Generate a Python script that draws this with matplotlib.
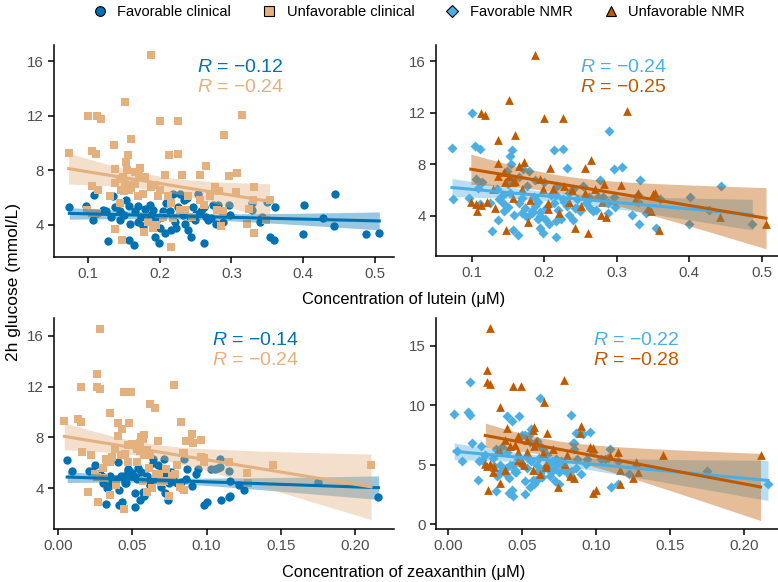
import matplotlib

matplotlib.use("Agg")
import matplotlib.pyplot as plt
import numpy as np
from matplotlib.lines import Line2D

plt.rcParams["font.family"] = ["Liberation Sans", "DejaVu Sans"]
plt.rcParams["mathtext.fontset"] = "custom"
plt.rcParams["mathtext.it"] = "Liberation Sans:italic"
plt.rcParams["mathtext.rm"] = "Liberation Sans"

# subjects with favorable clinical profile: lutein, zeaxanthin (uM), 2h glucose (mmol/L),
# and whether the NMR profile is favorable (1) or not (0)
lut_fc = [0.074, 0.097, 0.107, 0.109, 0.121, 0.128, 0.125, 0.132, 0.135, 0.138,
          0.144, 0.145, 0.153, 0.157, 0.159, 0.157, 0.164, 0.165, 0.170, 0.174,
          0.177, 0.180, 0.184, 0.188, 0.191, 0.194, 0.199, 0.201, 0.205, 0.207,
          0.209, 0.214, 0.218, 0.221, 0.223, 0.228, 0.232, 0.234, 0.235, 0.238,
          0.240, 0.243, 0.246, 0.249, 0.253, 0.258, 0.261, 0.264, 0.267, 0.274,
          0.281, 0.279, 0.288, 0.297, 0.298, 0.329, 0.329, 0.340, 0.343, 0.350,
          0.354, 0.359, 0.360, 0.401, 0.400, 0.427, 0.444, 0.443, 0.487, 0.506,
          0.195, 0.203, 0.216, 0.226, 0.251, 0.262, 0.272, 0.112, 0.150, 0.186,
          0.170, 0.242]
zea_fc = [0.009, 0.023, 0.030, 0.006, 0.028, 0.032, 0.035, 0.038, 0.040, 0.021,
          0.042, 0.045, 0.025, 0.047, 0.033, 0.043, 0.052, 0.044, 0.048, 0.036,
          0.041, 0.050, 0.046, 0.053, 0.049, 0.055, 0.041, 0.057, 0.051, 0.058,
          0.054, 0.060, 0.064, 0.062, 0.059, 0.071, 0.065, 0.067, 0.069, 0.064,
          0.072, 0.074, 0.070, 0.075, 0.085, 0.073, 0.098, 0.078, 0.080, 0.087,
          0.094, 0.082, 0.090, 0.103, 0.086, 0.108, 0.093, 0.122, 0.116, 0.109,
          0.110, 0.100, 0.115, 0.106, 0.115, 0.175, 0.109, 0.125, 0.216, 0.116,
          0.062, 0.045, 0.052, 0.056, 0.066, 0.076, 0.083, 0.031, 0.039, 0.047,
          0.034, 0.061]
glu_fc = [5.35, 5.4, 4.4, 6.2, 5.1, 2.8, 5.0, 4.6, 6.1, 5.35,
          5.0, 4.4, 5.8, 5.4, 4.05, 2.9, 2.55, 5.0, 5.4, 4.6,
          3.9, 5.2, 4.4, 4.75, 5.1, 3.1, 2.65, 3.75, 5.0, 3.4,
          5.6, 5.0, 6.3, 4.25, 3.75, 6.3, 4.75, 5.8, 4.1, 6.0,
          3.65, 3.1, 5.35, 4.4, 6.3, 5.0, 2.65, 4.6, 4.4, 5.5,
          5.5, 4.1, 4.2, 5.5, 4.7, 5.6, 5.1, 4.25, 4.6, 5.7,
          3.1, 2.9, 5.35, 5.5, 3.35, 4.5, 6.3, 3.9, 3.35, 3.4,
          4.3, 4.6, 3.6, 5.3, 4.8, 5.3, 4.5, 4.9, 4.7, 5.5,
          4.2, 4.6]
nmr_fc = [1, 1, 0, 1, 0, 1, 1, 0, 1, 1,
          1, 1, 1, 0, 1, 1, 1, 1, 1, 1,
          1, 0, 1, 1, 1, 1, 1, 1, 0, 1,
          1, 1, 1, 0, 1, 0, 1, 1, 1, 0,
          1, 0, 1, 1, 1, 1, 0, 1, 1, 1,
          1, 0, 1, 1, 1, 1, 1, 1, 0, 0,
          1, 0, 1, 1, 1, 1, 1, 0, 1, 0,
          1, 1, 1, 1, 0, 1, 1, 1, 1, 1,
          1, 1]

# subjects with unfavorable clinical profile
lut_uc = [0.073, 0.100, 0.113, 0.118, 0.105, 0.111, 0.106, 0.114, 0.099, 0.106,
          0.113, 0.136, 0.137, 0.151, 0.160, 0.156, 0.153, 0.154, 0.165, 0.173,
          0.171, 0.179, 0.137, 0.145, 0.149, 0.152, 0.155, 0.160, 0.165, 0.146,
          0.150, 0.157, 0.130, 0.137, 0.147, 0.188, 0.194, 0.200, 0.200, 0.188,
          0.226, 0.213, 0.226, 0.208, 0.198, 0.216, 0.228, 0.212, 0.231, 0.256,
          0.265, 0.290, 0.315, 0.296, 0.308, 0.306, 0.332, 0.321, 0.331, 0.277,
          0.283, 0.280, 0.288, 0.286, 0.256, 0.262, 0.245, 0.235, 0.183, 0.178,
          0.191, 0.195, 0.216, 0.205, 0.219, 0.348, 0.170, 0.177, 0.144, 0.330,
          0.353, 0.325, 0.240, 0.270]
zea_uc = [0.004, 0.015, 0.026, 0.028, 0.013, 0.015, 0.016, 0.022, 0.025, 0.026,
          0.031, 0.035, 0.040, 0.026, 0.065, 0.040, 0.043, 0.056, 0.057, 0.058,
          0.055, 0.052, 0.038, 0.047, 0.050, 0.053, 0.055, 0.045, 0.060, 0.042,
          0.036, 0.058, 0.033, 0.020, 0.027, 0.060, 0.059, 0.062, 0.049, 0.028,
          0.044, 0.048, 0.083, 0.067, 0.047, 0.061, 0.068, 0.053, 0.086, 0.089,
          0.090, 0.062, 0.078, 0.091, 0.096, 0.098, 0.085, 0.082, 0.075, 0.084,
          0.096, 0.079, 0.077, 0.085, 0.080, 0.073, 0.071, 0.066, 0.039, 0.035,
          0.060, 0.063, 0.044, 0.057, 0.069, 0.128, 0.035, 0.032, 0.030, 0.145,
          0.211, 0.127, 0.098, 0.115]
glu_uc = [9.3, 12.0, 12.0, 11.8, 9.45, 9.2, 6.85, 6.6, 5.1, 4.9,
          4.85, 9.9, 8.1, 13.0, 10.3, 9.1, 8.65, 8.0, 7.9, 8.2,
          7.6, 7.5, 7.1, 7.4, 7.5, 7.1, 6.9, 6.7, 7.0, 6.6,
          6.5, 6.6, 6.1, 3.7, 2.9, 6.8, 6.9, 6.6, 11.6, 16.5,
          11.6, 9.1, 9.2, 7.7, 6.1, 5.6, 5.1, 6.1, 7.7, 7.7,
          8.3, 10.6, 12.1, 7.6, 7.8, 6.4, 6.8, 4.1, 3.4, 6.8,
          6.5, 5.1, 5.0, 3.9, 5.8, 5.5, 4.6, 5.1, 4.25, 3.5,
          3.75, 4.0, 2.4, 4.55, 4.5, 4.4, 6.1, 6.3, 5.6, 5.8,
          5.8, 5.2, 6.1, 6.1]
nmr_uc = [1, 1, 0, 0, 1, 1, 1, 1, 0, 0,
          0, 0, 0, 0, 0, 1, 1, 1, 0, 0,
          1, 1, 0, 0, 1, 0, 1, 0, 1, 0,
          1, 0, 0, 1, 0, 1, 0, 1, 0, 0,
          0, 1, 1, 0, 0, 1, 1, 0, 1, 0,
          0, 1, 0, 1, 1, 0, 1, 1, 1, 1,
          0, 0, 1, 0, 0, 1, 1, 0, 1, 0,
          1, 1, 1, 0, 1, 0, 0, 1, 1, 0,
          0, 0, 1, 0]

groups = ["Favorable clinical", "Unfavorable clinical", "Favorable NMR", "Unfavorable NMR"]
colors = ["#0072B2", "#E3B07E", "#4DAEE3", "#C05A00"]
markers = ["o", "s", "D", "^"]
sizes = [36, 28, 26, 40]

# correlation labels, left/right panels, top (lutein) / bottom (zeaxanthin)
r_text = {
    "lutein": [("−0.12", "−0.24"), ("−0.24", "−0.25")],
    "zeaxanthin": [("−0.14", "−0.24"), ("−0.22", "−0.28")],
}

W, H = 778, 582


def add_axes(fig, left, right, top, bottom):
    return fig.add_axes([left / W, 1 - bottom / H, (right - left) / W, (bottom - top) / H])


def fit_band(ax, x, y, color):
    x = np.asarray(x)
    y = np.asarray(y)
    n = len(x)
    slope, intercept = np.polyfit(x, y, 1)
    resid = y - (slope * x + intercept)
    s = np.sqrt(np.sum(resid**2) / (n - 2))
    xm = x.mean()
    sxx = np.sum((x - xm) ** 2)
    xs = np.linspace(x.min(), x.max(), 80)
    yhat = slope * xs + intercept
    se = s * np.sqrt(1 / n + (xs - xm) ** 2 / sxx)
    t = 1.99
    ax.fill_between(xs, yhat - t * se, yhat + t * se, color=color, alpha=0.4,
                    linewidth=0, zorder=3)
    ax.plot(xs, yhat, color=color, lw=2.2, zorder=4)


def style(ax, xlim, ylim, xticks, xlabels, yticks):
    ax.set_xlim(*xlim)
    ax.set_ylim(*ylim)
    ax.set_xticks(xticks)
    ax.set_xticklabels(xlabels)
    ax.set_yticks(yticks)
    ax.set_yticklabels([str(v) for v in yticks])
    for side in ["top", "right"]:
        ax.spines[side].set_visible(False)
    for side in ["left", "bottom"]:
        ax.spines[side].set_linewidth(1.1)
    ax.tick_params(labelsize=10.8, labelcolor="#4D4D4D", length=4, width=1.1)


def panel(ax, xkey, split, r_pair, text_x):
    x_fc = np.array(lut_fc if xkey == "lutein" else zea_fc)
    x_uc = np.array(lut_uc if xkey == "lutein" else zea_uc)
    g_fc = np.array(glu_fc)
    g_uc = np.array(glu_uc)
    if split == "clinical":
        sets = [(x_fc, g_fc), (x_uc, g_uc)]
        idx = [0, 1]
    else:
        nf = np.array(nmr_fc) == 1
        nu = np.array(nmr_uc) == 1
        sets = [
            (np.concatenate([x_fc[nf], x_uc[nu]]), np.concatenate([g_fc[nf], g_uc[nu]])),
            (np.concatenate([x_fc[~nf], x_uc[~nu]]), np.concatenate([g_fc[~nf], g_uc[~nu]])),
        ]
        idx = [2, 3]
    for (x, y), i in zip(sets, idx):
        ax.scatter(x, y, s=sizes[i], marker=markers[i], color=colors[i],
                   linewidths=0, zorder=2)
    for (x, y), i in zip(sets, idx):
        fit_band(ax, x, y, colors[i])
    ax.text(text_x, 0.895, f"$R$ = {r_pair[0]}", transform=ax.transAxes,
            color=colors[idx[0]], fontsize=14, ha="left", va="center")
    ax.text(text_x, 0.80, f"$R$ = {r_pair[1]}", transform=ax.transAxes,
            color=colors[idx[1]], fontsize=14, ha="left", va="center")


fig = plt.figure(figsize=(W / 100, H / 100), dpi=100)

lut_ticks = [0.1, 0.2, 0.3, 0.4, 0.5]
lut_labels = ["0.1", "0.2", "0.3", "0.4", "0.5"]
zea_ticks = [0.0, 0.05, 0.10, 0.15, 0.20]
zea_labels = ["0.00", "0.05", "0.10", "0.15", "0.20"]

ax1 = add_axes(fig, 54, 394, 45, 257)
panel(ax1, "lutein", "clinical", r_text["lutein"][0], 0.42)
style(ax1, (0.0526, 0.5265), (1.65, 17.2), lut_ticks, lut_labels, [4, 8, 12, 16])

ax2 = add_axes(fig, 436, 778, 45, 256)
panel(ax2, "lutein", "nmr", r_text["lutein"][1], 0.42)
style(ax2, (0.051, 0.5225), (0.9, 17.24), lut_ticks, lut_labels, [4, 8, 12, 16])

ax3 = add_axes(fig, 54, 394, 318, 529)
panel(ax3, "zeaxanthin", "clinical", r_text["zeaxanthin"][0], 0.465)
style(ax3, (-0.0029, 0.2265), (0.8, 17.4), zea_ticks, zea_labels, [4, 8, 12, 16])

ax4 = add_axes(fig, 436, 778, 318, 529)
panel(ax4, "zeaxanthin", "nmr", r_text["zeaxanthin"][1], 0.46)
style(ax4, (-0.0083, 0.2228), (-0.4, 17.35), zea_ticks, zea_labels, [0, 5, 10, 15])

fig.text(14 / W, 1 - 282 / H, "2h glucose (mmol/L)", rotation=90, fontsize=12.5,
         ha="center", va="center")
fig.text(404 / W, 1 - 300 / H, "Concentration of lutein (μM)", fontsize=11.8,
         ha="center", va="center")
fig.text(404 / W, 1 - 573 / H, "Concentration of zeaxanthin (μM)", fontsize=11.8,
         ha="center", va="center")

handles = [
    Line2D([], [], linestyle="none", marker=m, markersize=7 if m != "D" else 6,
           markerfacecolor=c, markeredgecolor="black", markeredgewidth=0.8)
    for m, c in zip(markers, colors)
]
fig.legend(handles, groups, loc="center", bbox_to_anchor=(418 / W, 1 - 12 / H),
           ncol=4, frameon=False, fontsize=10.5, handletextpad=0.6,
           columnspacing=2.0, handlelength=1.2)

fig.savefig("out.png", dpi=100)
